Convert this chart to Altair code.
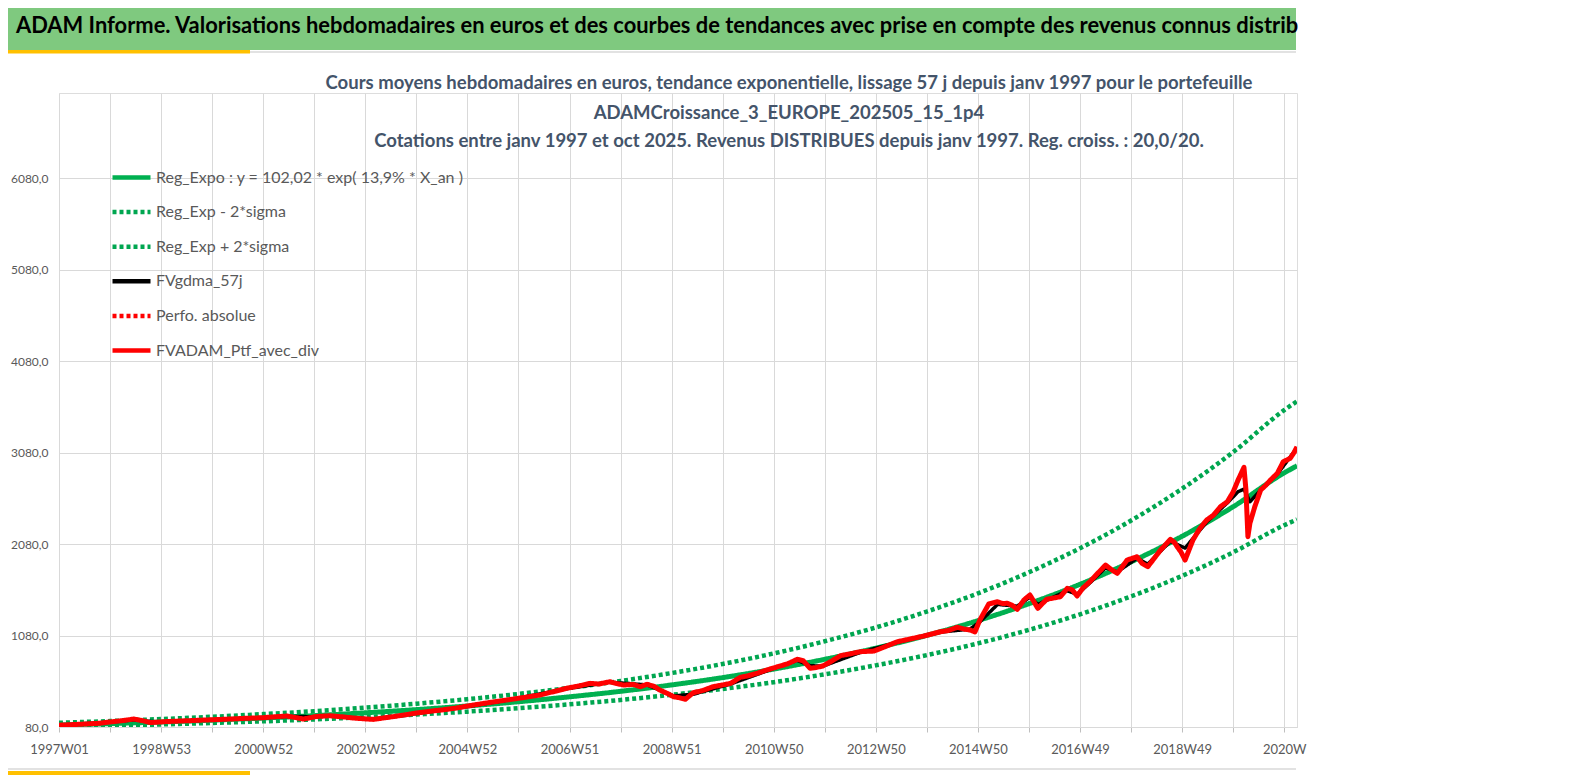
import altair as alt
import pandas as pd

# ---------------- data ----------------
trend_weeks = [0, 52, 104, 156, 208, 260, 312, 364, 416, 468, 520, 572, 624,
               676, 728, 780, 832, 884, 936, 988, 1040, 1092, 1144, 1196, 1248, 1261]
reg_vals = [102, 117, 135, 155, 178, 204, 235, 270, 310, 356, 410, 470, 540,
            620, 713, 820, 942, 1082, 1243, 1428, 1640, 1885, 2165, 2488, 2858, 2935]
low_vals = [82, 94, 108, 124, 142, 163, 188, 216, 248, 285, 328, 376, 432,
            496, 570, 656, 754, 866, 994, 1142, 1312, 1508, 1732, 1990, 2286, 2348]
up_vals = [126, 145, 167, 192, 221, 253, 291, 335, 384, 441, 508, 583, 670,
           769, 884, 1017, 1168, 1342, 1541, 1771, 2034, 2337, 2685, 3085, 3544, 3640]

red_weeks = [0, 10, 25, 40, 52, 65, 76, 85, 93, 110, 130, 150, 170, 190, 208, 220,
             232, 240, 249, 262, 276, 290, 300, 310, 320, 330, 340, 352, 364, 380,
             390, 405, 422, 440, 456, 472, 490, 505, 517, 530, 541, 550, 561, 568,
             575, 585, 592, 599, 606, 612, 620, 626, 632, 638, 646, 656, 666, 676,
             684, 694, 702, 711, 720, 732, 742, 752, 758, 765, 771, 778, 787, 796,
             806, 816, 830, 842, 854, 866, 881, 890, 898, 906, 915, 922, 928, 933,
             938, 947, 956, 961, 966, 971, 976, 983, 989, 993, 997, 1006, 1013,
             1020, 1027, 1032, 1037, 1043, 1050, 1058, 1066, 1072, 1078, 1088,
             1098, 1103, 1109, 1116, 1122, 1132, 1136, 1139, 1143, 1147, 1155,
             1162, 1169, 1176, 1183, 1190, 1196, 1201, 1207, 1209, 1211, 1213,
             1218, 1224, 1229, 1234, 1241, 1247, 1254, 1258, 1261]
red_vals = [100, 104, 112, 120, 135, 150, 167, 150, 128, 140, 148, 157, 165, 175, 182, 192,
            200, 185, 167, 195, 203, 190, 178, 170, 163, 178, 193, 212, 233, 255,
            266, 288, 320, 350, 375, 400, 430, 470, 503, 530, 557, 550, 575, 555,
            539, 545, 520, 547, 525, 484, 445, 411, 400, 383, 455, 480, 520, 540,
            557, 623, 640, 667, 700, 739, 770, 820, 805, 722, 730, 747, 800, 860,
            880, 903, 910, 960, 1012, 1040, 1075, 1100, 1122, 1135, 1170, 1150, 1140, 1120,
            1250, 1424, 1449, 1430, 1432, 1410, 1366, 1470, 1523, 1450, 1377, 1476, 1490,
            1504, 1596, 1580, 1512, 1600, 1668, 1760, 1850, 1800, 1760, 1905,
            1941, 1870, 1832, 1930, 2014, 2131, 2100, 2050, 1990, 1905, 2124,
            2250, 2342, 2397, 2488, 2542, 2650, 2780, 2918, 2670, 2160, 2306,
            2488, 2670, 2720, 2780, 2853, 2980, 3016, 3080, 3143]

black_weeks = [0, 52, 76, 100, 150, 208, 232, 262, 276, 300, 320, 340, 364, 405, 456,
               517, 561, 599, 626, 646, 684, 732, 752, 765, 778, 816, 854, 898, 928,
               938, 956, 976, 989, 997, 1027, 1037, 1050, 1066, 1078, 1098, 1109,
               1132, 1147, 1169, 1190, 1201, 1207, 1213, 1224, 1241, 1261]
black_vals = [100, 133, 158, 135, 155, 180, 196, 192, 200, 180, 166, 190, 228, 284, 372,
              498, 570, 540, 420, 438, 550, 736, 808, 750, 745, 895, 1005, 1118, 1150,
              1230, 1420, 1400, 1500, 1420, 1570, 1530, 1655, 1820, 1775, 1925, 1860,
              2110, 2036, 2320, 2530, 2652, 2680, 2542, 2670, 2845, 3130]

series_names = ["Reg_Expo : y = 102,02 * exp( 13,9% *  X_an )", "Reg_Exp - 2*sigma",
                "Reg_Exp + 2*sigma", "FVgdma_57j", "Perfo. absolue", "FVADAM_Ptf_avec_div"]
series_colors = ["#00B050", "#00A650", "#00A650", "#000000", "#FF0000", "#FF0000"]
series_dash = [[1, 0], [4, 3], [4, 3], [1, 0], [4, 3], [1, 0]]

x_tick_weeks = list(range(0, 1249, 52))
x_tick_labels = ["1997W01", "", "1998W53", "", "2000W52", "", "2002W52", "", "2004W52", "",
                 "2006W51", "", "2008W51", "", "2010W50", "", "2012W50", "", "2014W50", "",
                 "2016W49", "", "2018W49", "", "2020W"]
y_tick_values = [80, 1080, 2080, 3080, 4080, 5080, 6080]
y_tick_labels = ["80,0", "1080,0", "2080,0", "3080,0", "4080,0", "5080,0", "6080,0"]

header_text = ("ADAM Informe. Valorisations hebdomadaires en euros et des courbes de tendances "
               "avec prise en compte des revenus connus distrib")
subtitle_lines = [
    "Cours moyens hebdomadaires  en euros, tendance exponentielle, lissage 57 j depuis janv 1997 pour le portefeuille",
    "ADAMCroissance_3_EUROPE_202505_15_1p4",
    "Cotations entre janv 1997 et oct 2025. Revenus DISTRIBUES depuis janv 1997. Reg. croiss. : 20,0/20.",
]

# ---------------- table ----------------
rows = []
for w, v in zip(trend_weeks, reg_vals):
    rows.append({"week": w, "value": v, "series": series_names[0]})
for w, v in zip(trend_weeks, low_vals):
    rows.append({"week": w, "value": v, "series": series_names[1]})
for w, v in zip(trend_weeks, up_vals):
    rows.append({"week": w, "value": v, "series": series_names[2]})
for w, v in zip(black_weeks, black_vals):
    rows.append({"week": w, "value": v, "series": series_names[3]})
for w, v in zip(red_weeks, red_vals):
    rows.append({"week": w, "value": v, "series": series_names[5]})
df = pd.DataFrame(rows)

FONT = "Lato"
TEXT_GREY = "#595959"
GRID = "#D9D9D9"

x_expr = "[" + ",".join("'%s'" % s for s in x_tick_labels) + "][round(datum.value/52)]"
y_expr = "[" + ",".join("'%s'" % s for s in y_tick_labels) + "][round((datum.value-80)/1000)]"

legend = alt.Legend(
    title=None, orient="none", legendX=51, legendY=63, padding=0,
    symbolType="stroke", symbolSize=1444, symbolStrokeWidth=4.5,
    labelFont=FONT, labelFontSize=16, labelColor=TEXT_GREY, labelOffset=3,
    labelLimit=700, rowPadding=3.6,
)

x_enc = alt.X("week:Q", scale=alt.Scale(domain=[0, 1261], nice=False, zero=False),
              axis=alt.Axis(values=x_tick_weeks, labelExpr=x_expr, title=None, grid=True,
                            gridColor=GRID, domainColor=GRID, tickColor="#BFBFBF", tickSize=5,
                            labelFont=FONT, labelFontSize=13, labelColor=TEXT_GREY,
                            labelPadding=11, labelFlush=False, labelOverlap=False, labelAngle=0))
y_enc = alt.Y("value:Q", scale=alt.Scale(domain=[80, 7010], nice=False, zero=False),
              axis=alt.Axis(values=y_tick_values, labelExpr=y_expr, title=None, grid=True,
                            gridColor=GRID, domain=False, ticks=False,
                            labelFont=FONT, labelFontSize=12, labelColor=TEXT_GREY,
                            labelPadding=11))
color_enc = alt.Color("series:N", scale=alt.Scale(domain=series_names, range=series_colors),
                      legend=legend)
dash_enc = alt.StrokeDash("series:N", scale=alt.Scale(domain=series_names, range=series_dash),
                          legend=legend)

base = alt.Chart(df).encode(x=x_enc, y=y_enc, color=color_enc, strokeDash=dash_enc)


def series_layer(name, width, interp):
    return base.transform_filter(alt.datum.series == name).mark_line(
        strokeWidth=width, interpolate=interp, clip=True, strokeJoin="round")


reg_layer = series_layer(series_names[0], 5, "monotone")
low_layer = series_layer(series_names[1], 4.5, "monotone")
up_layer = series_layer(series_names[2], 4.5, "monotone")
black_layer = series_layer(series_names[3], 3.5, "linear")
red_layer = series_layer(series_names[5], 5, "linear")

one = pd.DataFrame({"k": [0]})

header_band = alt.Chart(one).mark_rect(color="#7FC97F").encode(
    x=alt.value(-51), x2=alt.value(1237), y=alt.value(-85), y2=alt.value(-43))
yellow_top = alt.Chart(one).mark_rect(color="#FFC000").encode(
    x=alt.value(-51), x2=alt.value(191), y=alt.value(-43), y2=alt.value(-39.5))
grey_top = alt.Chart(one).mark_rule(color=GRID, strokeWidth=1.5).encode(
    x=alt.value(191), x2=alt.value(1237), y=alt.value(-41))
grey_bottom = alt.Chart(one).mark_rule(color=GRID, strokeWidth=1.5).encode(
    x=alt.value(-51), x2=alt.value(1237), y=alt.value(676))
yellow_bottom = alt.Chart(one).mark_rect(color="#FFC000").encode(
    x=alt.value(-51), x2=alt.value(191), y=alt.value(678), y2=alt.value(682))

header = alt.Chart(one).mark_text(
    align="left", baseline="alphabetic", font=FONT, fontSize=21.9, fontWeight="bold",
    color="#000000").encode(x=alt.value(-43), y=alt.value(-60), text=alt.value(header_text))

sub_layers = []
for line, ypos in zip(subtitle_lines, [-4, 26, 54]):
    sub_layers.append(alt.Chart(one).mark_text(
        align="center", baseline="alphabetic", font=FONT, fontSize=18.5, fontWeight="bold",
        color="#44546A").encode(x=alt.value(730), y=alt.value(ypos), text=alt.value(line)))

chart = alt.layer(
    header_band, yellow_top, grey_top, grey_bottom, yellow_bottom,
    reg_layer, low_layer, up_layer, black_layer, red_layer,
    header, *sub_layers,
).properties(
    width=1238, height=634,
    padding={"left": 51, "top": 85, "right": 264, "bottom": 48},
    autosize=alt.AutoSizeParams(type="none"),
).configure_view(stroke=None).configure(background="#FFFFFF")

chart.save("out.html", embed_options={"renderer": "svg", "actions": False})
